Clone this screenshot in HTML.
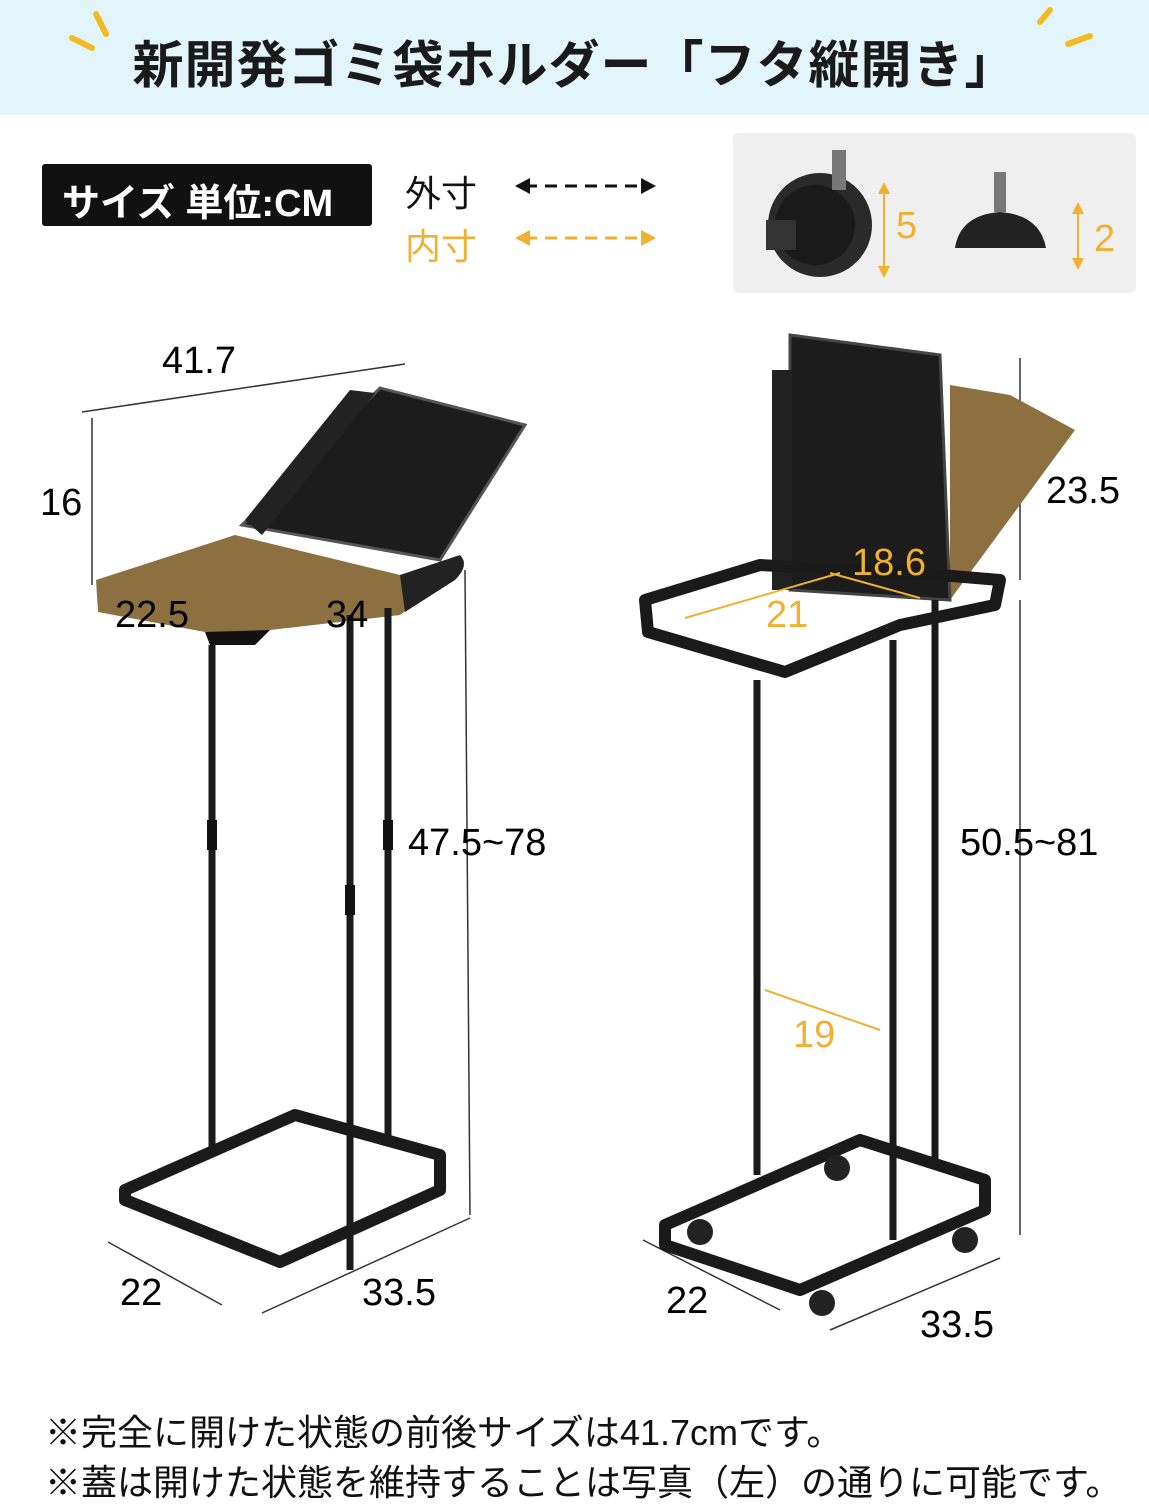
<!DOCTYPE html>
<html><head><meta charset="utf-8"><style>
html,body{margin:0;padding:0;background:#fff;}
body{width:1149px;height:1500px;position:relative;overflow:hidden;font-family:"Liberation Sans","Noto Sans CJK JP",sans-serif;}
.t{position:absolute;white-space:nowrap;}
</style></head><body>
<div style="position:absolute;left:0;top:0;width:1149px;height:115px;background:#e1f5fb;"></div>
<div class="t" style="left:0;width:1149px;text-align:center;top:24px;font-size:51px;font-weight:bold;color:#1a1a1a;letter-spacing:1px;">新開発ゴミ袋ホルダー「フタ縦開き」</div>
<svg style="position:absolute;left:0;top:0" width="1149" height="1500">
 <g stroke="#f5b921" stroke-width="6" stroke-linecap="round">
  <line x1="72" y1="38" x2="92" y2="48"/><line x1="96" y1="14" x2="106" y2="34"/>
  <line x1="1068" y1="44" x2="1090" y2="36"/><line x1="1040" y1="22" x2="1050" y2="10"/>
 </g>
 <g stroke="#111" stroke-width="3" stroke-dasharray="12 8"><line x1="525" y1="186" x2="645" y2="186"/></g>
 <polygon points="515,186 530,178 530,194" fill="#111"/><polygon points="656,186 641,178 641,194" fill="#111"/>
 <g stroke="#f0b030" stroke-width="3" stroke-dasharray="12 8"><line x1="525" y1="238" x2="645" y2="238"/></g>
 <polygon points="515,238 530,230 530,246" fill="#f0b030"/><polygon points="656,238 641,230 641,246" fill="#f0b030"/>
 <rect x="733" y="133" width="403" height="160" rx="6" fill="#efefef"/>
 <circle cx="820" cy="225" r="52" fill="#2a2a2a"/><circle cx="815" cy="225" r="40" fill="#1a1a1a"/>
 <rect x="832" y="150" width="14" height="40" fill="#777"/>
 <rect x="766" y="220" width="30" height="30" fill="#333"/>
 <line x1="884" y1="185" x2="884" y2="275" stroke="#f0b030" stroke-width="2"/>
 <polygon points="884,182 878,194 890,194" fill="#f0b030"/><polygon points="884,278 878,266 890,266" fill="#f0b030"/>
 <rect x="994" y="172" width="12" height="40" fill="#777"/>
 <path d="M955 248 Q960 215 1000 212 Q1040 215 1046 248 Z" fill="#222"/>
 <line x1="1078" y1="205" x2="1078" y2="268" stroke="#f0b030" stroke-width="2"/>
 <polygon points="1078,202 1072,214 1084,214" fill="#f0b030"/><polygon points="1078,270 1072,258 1084,258" fill="#f0b030"/>

 <g stroke="#333" stroke-width="1.5" fill="none">
  <line x1="82" y1="412" x2="405" y2="364"/><line x1="92" y1="418" x2="92" y2="585"/>
  <line x1="465" y1="570" x2="470" y2="1215"/>
  <line x1="108" y1="1242" x2="222" y2="1305"/><line x1="262" y1="1313" x2="470" y2="1218"/>
 </g>
 <path d="M242 525 L380 388 L525 425 L440 560 Z" fill="#1c1c1c" stroke="#555" stroke-width="3"/>
 <path d="M245 520 L350 390 L375 393 L262 535 Z" fill="#222"/>
 <path d="M96 580 L235 535 L400 575 L460 560 L455 575 L400 615 L270 630 L255 640 L205 632 L98 612 Z" fill="#8c7040"/>
 <path d="M400 575 L460 555 Q470 565 455 580 L405 612 Z" fill="#222"/>
 <path d="M205 632 L270 630 L255 645 L210 645 Z" fill="#111"/>
 <g stroke="#1a1a1a" stroke-width="7">
  <line x1="212" y1="645" x2="212" y2="1155"/><line x1="350" y1="615" x2="350" y2="1270"/><line x1="388" y1="608" x2="388" y2="1140"/>
 </g>
 <rect x="207" y="820" width="10" height="30" fill="#111"/><rect x="345" y="885" width="10" height="30" fill="#111"/><rect x="383" y="820" width="10" height="30" fill="#111"/>
 <path d="M125 1190 L295 1115 L440 1155 L440 1190 L280 1262 L125 1200 Z" fill="none" stroke="#1a1a1a" stroke-width="12" stroke-linejoin="round"/>
 <g stroke="#333" stroke-width="1.5" fill="none">
  <line x1="1020" y1="358" x2="1020" y2="580"/><line x1="1020" y1="600" x2="1020" y2="1235"/>
  <line x1="643" y1="1240" x2="780" y2="1310"/><line x1="830" y1="1330" x2="1000" y2="1258"/>
 </g>
 <path d="M950 385 L1010 395 L1075 430 L950 600 Z" fill="#8c7040"/>
 <path d="M790 335 L940 355 L950 600 L790 590 Z" fill="#1c1c1c" stroke="#444" stroke-width="3"/>
 <rect x="772" y="370" width="20" height="220" fill="#222"/>
 <path d="M645 600 L760 565 L940 575 L1000 580 L995 605 L900 625 L785 672 L648 632 Z" fill="none" stroke="#1a1a1a" stroke-width="12" stroke-linejoin="round"/>
 <line x1="685" y1="618" x2="840" y2="573" stroke="#f0b030" stroke-width="2"/>
 <line x1="830" y1="573" x2="920" y2="598" stroke="#f0b030" stroke-width="2"/>
 <line x1="765" y1="990" x2="880" y2="1030" stroke="#f0b030" stroke-width="2"/>
 <g stroke="#1a1a1a" stroke-width="7">
  <line x1="757" y1="680" x2="757" y2="1175"/><line x1="893" y1="640" x2="893" y2="1240"/><line x1="935" y1="600" x2="935" y2="1165"/>
 </g>
 <path d="M665 1225 L860 1140 L985 1180 L985 1210 L800 1290 L665 1245 Z" fill="none" stroke="#1a1a1a" stroke-width="12" stroke-linejoin="round"/>
 <circle cx="837" cy="1168" r="13" fill="#222"/><circle cx="700" cy="1232" r="13" fill="#222"/><circle cx="965" cy="1240" r="13" fill="#222"/><circle cx="822" cy="1303" r="13" fill="#222"/>
</svg>
<div class="t" style="left:42px;top:164px;width:330px;height:62px;background:#111;border-radius:3px;"></div>
<div class="t" style="left:62px;top:172px;font-size:38px;font-weight:bold;color:#fff;">サイズ 単位:CM</div>
<div class="t" style="left:405px;top:165px;font-size:36px;color:#111;">外寸</div>
<div class="t" style="left:405px;top:218px;font-size:36px;color:#f0b030;">内寸</div>
<div class="t" style="left:896px;top:205px;font-size:38px;color:#f0b030;">5</div>
<div class="t" style="left:1094px;top:218px;font-size:38px;color:#f0b030;">2</div>
<div class="t" style="left:162px;top:340px;font-size:38px;">41.7</div>
<div class="t" style="left:40px;top:482px;font-size:38px;">16</div>
<div class="t" style="left:115px;top:594px;font-size:38px;">22.5</div>
<div class="t" style="left:326px;top:594px;font-size:38px;">34</div>
<div class="t" style="left:408px;top:822px;font-size:38px;">47.5~78</div>
<div class="t" style="left:120px;top:1272px;font-size:38px;">22</div>
<div class="t" style="left:362px;top:1272px;font-size:38px;">33.5</div>
<div class="t" style="left:1046px;top:470px;font-size:38px;">23.5</div>
<div class="t" style="left:852px;top:542px;font-size:38px;color:#f0b030;">18.6</div>
<div class="t" style="left:766px;top:594px;font-size:38px;color:#f0b030;">21</div>
<div class="t" style="left:960px;top:822px;font-size:38px;">50.5~81</div>
<div class="t" style="left:793px;top:1014px;font-size:38px;color:#f0b030;">19</div>
<div class="t" style="left:666px;top:1280px;font-size:38px;">22</div>
<div class="t" style="left:920px;top:1304px;font-size:38px;">33.5</div>
<div class="t" style="left:45px;top:1404px;font-size:36px;color:#111;">※完全に開けた状態の前後サイズは41.7cmです。</div>
<div class="t" style="left:45px;top:1454px;font-size:36px;color:#111;">※蓋は開けた状態を維持することは写真（左）の通りに可能です。</div>
</body></html>
